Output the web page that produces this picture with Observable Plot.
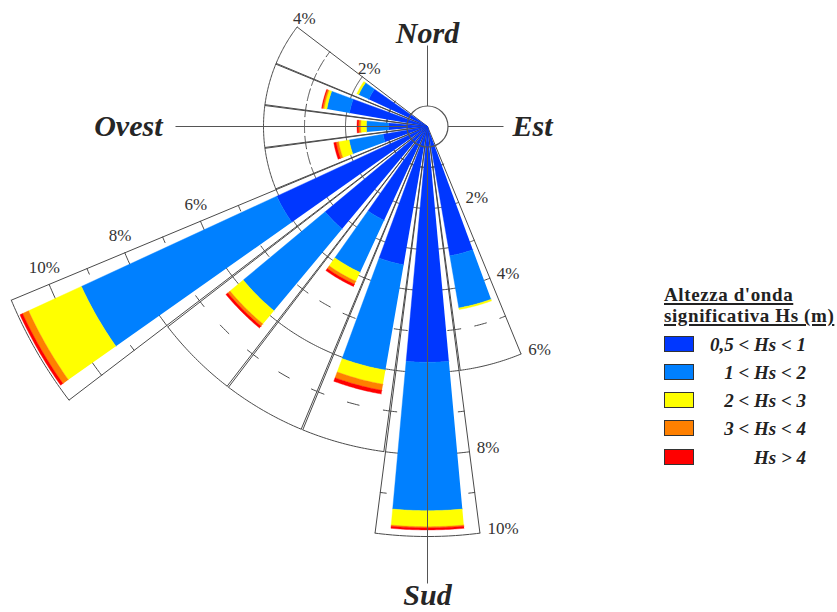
<!DOCTYPE html>
<html>
<head>
<meta charset="utf-8">
<script src="https://cdn.jsdelivr.net/npm/d3@7"></script>
<script src="https://cdn.jsdelivr.net/npm/@observablehq/plot@0.6"></script>
<style>
  html, body { margin: 0; padding: 0; background: #fff; }
  #wrap { position: relative; width: 837px; height: 612px; }
  .legend-title { position: absolute; left: 664px; font-family: "Liberation Serif", "Times New Roman", "DejaVu Serif", serif;
                  font-weight: bold; font-size: 19px; line-height: 21px; letter-spacing: 0.6px; color: #222;
                  text-decoration: underline; text-decoration-thickness: 1.5px; text-underline-offset: 2px; white-space: nowrap; }
  .legend-box { position: absolute; left: 664px; width: 30px; height: 16px; box-sizing: border-box; border: 1px solid #333; }
  .legend-label { position: absolute; right: 31px; font-family: "Liberation Serif", "Times New Roman", "DejaVu Serif", serif;
                  font-style: italic; font-weight: bold; font-size: 19px; line-height: 19px; color: #222; white-space: nowrap; }
</style>
</head>
<body>
<div id="wrap"></div>
<script>
// Wave rose: frequency (%) of significant wave height Hs by incoming direction

// directions (degrees clockwise from North) that carry waves
const directions = [165, 180, 195, 210, 225, 240, 255, 270, 285, 300];

// Hs classes
const legendTitle = ["Altezza d'onda", "significativa Hs (m)"];
const classLabels = ["0,5 < Hs < 1", "1 < Hs < 2", "2 < Hs < 3", "3 < Hs < 4", "Hs > 4"];
const classColors = ["#0037ff", "#0080ff", "#ffff00", "#ff8000", "#ff0000"];

// frequency (%) of each class, one value per direction
const freq05to1 = [3.20, 5.75, 3.42, 2.52, 3.25, 4.05, 1.10, 0.95, 1.93, 1.58];
const freq1to2  = [1.29, 3.62, 2.61, 1.40, 2.60, 5.25, 0.84, 0.54, 0.56, 0.27];
const freq2to3  = [0.04, 0.39, 0.35, 0.24, 0.42, 1.42, 0.26, 0.14, 0.07, 0.05];
const freq3to4  = [0.00, 0.03, 0.15, 0.08, 0.07, 0.16, 0.06, 0.05, 0.04, 0.00];
const freqOver4 = [0.00, 0.05, 0.09, 0.06, 0.06, 0.07, 0.06, 0.04, 0.02, 0.00];

// outermost ring (%) of the grid drawn behind each direction
const gridMax = [6, 10, 8, 8, 8, 11, 4, 4, 4, 4];

// ring labels (%) and the sector edge each set is written along
const ringLabelsNW = [2, 4];      // edge at 307.5°
const ringLabelsW  = [6, 8, 10];  // edge at 247.5°
const ringLabelsSE = [2, 4, 6];   // edge at 157.5°
const ringLabelsS  = [8, 10];     // edge at 172.5°

// compass points
const compassNames = ["Nord", "Est", "Sud", "Ovest"];
const compassBearings = [0, 90, 180, 270];

// ---- geometry -------------------------------------------------------------
const W = 837, H = 612;
const cx = 427, cy = 126;       // centre of the rose in the SVG
const pxPerPct = 41;            // radial scale
const sectorHalf = 7.35;        // half-width of each grid sector (deg)
const wedgeHalf = 5.2;          // half-width of each coloured wedge (deg)
const hubPct = 20.5 / pxPerPct; // radius of the central circle

const rad = d => d * Math.PI / 180;
const px = (r, b) => r * Math.sin(rad(b));
const py = (r, b) => r * Math.cos(rad(b));

const series = [freq05to1, freq1to2, freq2to3, freq3to4, freqOver4];

// annular wedge polygons, one list per class
const wedgeRows = series.map((vals, k) => {
  const rows = [];
  directions.forEach((b, i) => {
    const r0 = d3.sum(series.slice(0, k), s => s[i]);
    const r1 = r0 + vals[i];
    if (vals[i] <= 0) return;
    const id = `${k}-${b}`;
    const n = 24;
    for (let j = 0; j <= n; j++) {
      const a = b - wedgeHalf + 2 * wedgeHalf * j / n;
      rows.push({x: px(r1, a), y: py(r1, a), id});
    }
    if (r0 > 0) {
      for (let j = n; j >= 0; j--) {
        const a = b - wedgeHalf + 2 * wedgeHalf * j / n;
        rows.push({x: px(r0, a), y: py(r0, a), id});
      }
    } else {
      rows.push({x: 0, y: 0, id});
    }
  });
  return rows;
});

// grid: full arcs at even rings and at the outer ring, short marks at odd rings
const arcRows = [];
function arc(r, a0, a1, id) {
  const n = Math.max(2, Math.ceil(Math.abs(a1 - a0) / 0.5));
  for (let j = 0; j <= n; j++) {
    const a = a0 + (a1 - a0) * j / n;
    arcRows.push({x: px(r, a), y: py(r, a), id});
  }
}
const rayRows = [];
directions.forEach((b, i) => {
  const m = gridMax[i];
  rayRows.push({b: b - sectorHalf, r: m}, {b: b + sectorHalf, r: m});
  for (let p = 1; p <= m; p++) {
    const lo = b - sectorHalf, hi = b + sectorHalf;
    if (p % 2 === 0 || p === m) {
      arc(p, lo, hi, `${b}-${p}`);
    } else {
      const dEnd = 6 / (p * pxPerPct) * 180 / Math.PI;
      const dMid = 6 / (p * pxPerPct) * 180 / Math.PI;
      arc(p, lo, lo + dEnd, `${b}-${p}-a`);
      arc(p, hi - dEnd, hi, `${b}-${p}-b`);
      arc(p, b - dMid, b + dMid, `${b}-${p}-c`);
    }
  }
});

// compass axis lengths (%)
const compassLen = [(cy - 45) / pxPerPct, (503 - cx) / pxPerPct, (583 - cy) / pxPerPct, (cx - 175) / pxPerPct];
const compassRows = compassNames.map((name, i) => ({name, b: compassBearings[i], len: compassLen[i]}));

const serifStack = `"Liberation Serif", "Times New Roman", "DejaVu Serif", serif`;
const gridColor = "#4a4a4a";
const labelFont = {fontFamily: serifStack, fontSize: 17, fill: "#333"};
const ringText = (vals, edge, opts) => Plot.text(vals, {
  x: d => px(d, edge), y: d => py(d, edge), text: d => `${d}%`, ...labelFont, ...opts
});
const compassFont = {fontFamily: serifStack, fontSize: 30, fontWeight: "bold", fontStyle: "italic", fill: "#262626"};
const compassText = (name, opts) => Plot.text(compassRows.filter(d => d.name === name), {
  x: d => px(d.len, d.b), y: d => py(d.len, d.b), text: "name", ...compassFont, ...opts
});

const chart = Plot.plot({
  width: W, height: H, margin: 0,
  style: {background: "white", overflow: "visible"},
  x: {domain: [-cx / pxPerPct, (W - cx) / pxPerPct], range: [0, W], axis: null},
  y: {domain: [-(H - cy) / pxPerPct, cy / pxPerPct], range: [H, 0], axis: null},
  marks: [
    // sector grid
    Plot.link(rayRows, {x1: 0, y1: 0, x2: d => px(d.r, d.b), y2: d => py(d.r, d.b), stroke: gridColor, strokeWidth: 1}),
    Plot.line(arcRows, {x: "x", y: "y", z: "id", stroke: gridColor, strokeWidth: 1, curve: "linear"}),
    // coloured wedges
    ...wedgeRows.map((rows, k) => Plot.line(rows, {
      x: "x", y: "y", z: "id", fill: classColors[k], stroke: classColors[k], strokeWidth: 0.4, curve: "linear"
    })),
    // compass axes and hub
    Plot.link(compassRows, {
      x1: d => px(hubPct, d.b), y1: d => py(hubPct, d.b), x2: d => px(d.len, d.b), y2: d => py(d.len, d.b),
      stroke: "#555", strokeWidth: 1
    }),
    Plot.dot([0], {x: () => 0, y: () => 0, r: 20.5, fill: "none", stroke: "#555", strokeWidth: 1.2}),
    // ring labels
    ringText(ringLabelsNW, 307.5, {textAnchor: "middle", dx: 7, dy: -8}),
    ringText(ringLabelsW, 247.5, {textAnchor: "middle", dx: -4.5, dy: -16}),
    ringText(ringLabelsSE, 157.5, {textAnchor: "start", dx: 6.5, dy: -4.5}),
    ringText(ringLabelsS, 172.5, {textAnchor: "start", dx: 6.5, dy: -4.5}),
    // compass names
    compassText("Nord", {lineAnchor: "bottom", dy: -3}),
    compassText("Est", {textAnchor: "start", dx: 9}),
    compassText("Sud", {lineAnchor: "top", dy: 0.5}),
    compassText("Ovest", {textAnchor: "end", dx: -13})
  ]
});

const wrap = document.getElementById("wrap");
wrap.appendChild(chart);

// legend: two-line underlined title, then one swatch per Hs class
const title = document.createElement("div");
title.className = "legend-title";
title.style.top = "284.1px";
legendTitle.forEach((line, i) => {
  if (i) title.appendChild(document.createElement("br"));
  title.appendChild(document.createTextNode(line));
});
wrap.append(title);
classLabels.forEach((label, i) => {
  const box = document.createElement("div");
  box.className = "legend-box";
  box.style.top = `${335.7 + 28.2 * i}px`;
  box.style.background = classColors[i];
  const txt = document.createElement("div");
  txt.className = "legend-label";
  txt.style.top = `${334.8 + 28.2 * i}px`;
  txt.textContent = label;
  wrap.append(box, txt);
});
</script>
</body>
</html>
